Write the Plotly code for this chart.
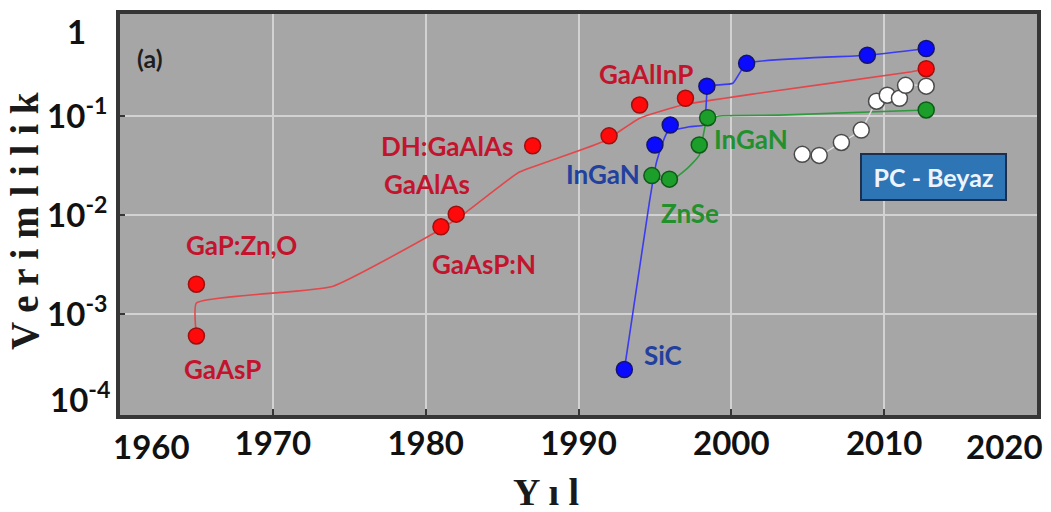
import numpy as np
import plotly.graph_objects as go

# ---------------- data ----------------
# red series (GaAsP family) - points
red_x = [1965.0, 1965.0, 1981.0, 1982.0, 1987.0, 1992.0, 1994.0, 1997.0, 2012.75]
red_y = [6.0e-4, 2.0e-3, 7.6e-3, 1.02e-2, 0.050, 0.063, 0.129, 0.151, 0.30]
# red trend line
red_line_x = [1965.0, 1965.0, 1973.9, 1980.5, 1982.4, 1986.1, 1988.3, 1991.7, 1994.0, 1996.8, 2001.8, 2011.8, 2012.75]
red_line_y = [6.0e-4, 1.29e-3, 1.9e-3, 6.5e-3, 1.0e-2, 0.027, 0.036, 0.056, 0.095, 0.129, 0.17, 0.28, 0.30]

# blue series (SiC / InGaN) - points
blue_x = [1993.0, 1995.0, 1996.0, 1998.4, 2001.0, 2008.9, 2012.75]
blue_y = [2.75e-4, 0.051, 0.081, 0.20, 0.34, 0.41, 0.48]
blue_line_x = [1993.0, 1994.64, 1995.1, 1995.8, 1997.25, 1998.2, 1998.4, 1998.5, 2000.1, 2001.0, 2008.9, 2012.75]
blue_line_y = [2.75e-4, 0.0135, 0.034, 0.068, 0.078, 0.081, 0.17, 0.20, 0.214, 0.34, 0.41, 0.48]

# green series (ZnSe / InGaN) - points
green_x = [1994.8, 1995.95, 1997.9, 1998.45, 2012.75]
green_y = [0.025, 0.023, 0.051, 0.096, 0.115]
green_line_x = [1994.8, 1996.0, 1997.06, 1997.9, 1998.4, 1999.2, 2003.1, 2012.75]
green_line_y = [0.024, 0.022, 0.029, 0.040, 0.091, 0.100, 0.102, 0.115]

# white series (PC - Beyaz)
white_x = [2004.64, 2005.75, 2007.2, 2008.5, 2009.5, 2010.2, 2011.0, 2011.4, 2012.75]
white_y = [0.041, 0.040, 0.054, 0.072, 0.141, 0.162, 0.151, 0.204, 0.20]

x_ticks = [1970, 1980, 1990, 2000, 2010]
y_ticks = [1e-1, 1e-2, 1e-3]
y_ticktext = ["10<sup>-1</sup>", "10<sup>-2</sup>", "10<sup>-3</sup>"]

# text labels: (text, year, value, colour)
RED_T, BLUE_T, GREEN_T = "#c3142d", "#22409e", "#23902e"
labels = [
    ("GaP:Zn,O", 1967.97, 10 ** -2.30, RED_T),
    ("GaAsP", 1966.7, 10 ** -3.56, RED_T),
    ("GaAsP:N", 1983.8, 10 ** -2.49, RED_T),
    ("GaAlAs", 1980.07, 10 ** -1.69, RED_T),
    ("DH:GaAlAs", 1981.4, 10 ** -1.30, RED_T),
    ("GaAlInP", 1994.4, 10 ** -0.58, RED_T),
    ("InGaN", 1991.6, 10 ** -1.59, BLUE_T),
    ("SiC", 1995.5, 10 ** -3.41, BLUE_T),
    ("ZnSe", 1997.3, 10 ** -1.98, GREEN_T),
    ("InGaN", 2001.3, 10 ** -1.23, GREEN_T),
]

LBL_FONT = "Lato"

fig = go.Figure()

def line(xs, ys, color, width=1.6):
    fig.add_trace(go.Scatter(x=xs, y=ys, mode="lines",
                             line=dict(color=color, width=width, shape="spline", smoothing=0.4),
                             hoverinfo="skip", showlegend=False))

def pts(xs, ys, fill, edge):
    fig.add_trace(go.Scatter(x=xs, y=ys, mode="markers",
                             marker=dict(size=16, color=fill, line=dict(color=edge, width=1.5)),
                             showlegend=False))

line(red_line_x, red_line_y, "#e2474b")
line(blue_line_x, blue_line_y, "#3b3bf0")
line(green_line_x, green_line_y, "#2f9a3c")
line(white_x, white_y, "#dcdcdc", 1.4)

pts(red_x, red_y, "#ff0a0a", "#9c1010")
pts(blue_x, blue_y, "#0a0aff", "#14146e")
pts(green_x, green_y, "#1c9e2a", "#0f5a18")
pts(white_x, white_y, "#ffffff", "#4a4a4a")

ann = []
for t, x, y, c in labels:
    ann.append(dict(x=x, y=np.log10(y), xref="x", yref="y", text=t, showarrow=False,
                    font=dict(family=LBL_FONT, size=26, color=c, weight="bold"),
                    xanchor="center", yanchor="middle"))

# panel tag
ann.append(dict(x=(150 - 120) / 918, y=(413 - 52) / 405, xref="paper", yref="paper", text="(a)",
                showarrow=False, font=dict(family=LBL_FONT, size=25, color="#1e1e1e", weight="bold"),
                xanchor="center", yanchor="middle"))

# PC - Beyaz box
ann.append(dict(x=(934.5 - 120) / 918, y=(415 - 175) / 405, xref="paper", yref="paper",
                text="PC - Beyaz", showarrow=False,
                font=dict(family=LBL_FONT, size=25, color="#eef4ff", weight="bold"),
                bgcolor="#2e75b6", bordercolor="#1d2f4d", borderwidth=2,
                width=141, height=42, xanchor="center", yanchor="middle"))

TICK_FONT = dict(family="Lato", size=33, color="#111111", weight="bold")
# edge tick labels (shifted inward as in the reference)
ann.append(dict(x=(152 - 120) / 918, y=-(446 - 415) / 405, xref="paper", yref="paper", text="1960",
                showarrow=False, font=TICK_FONT, xanchor="center", yanchor="middle"))
ann.append(dict(x=(1005 - 120) / 918, y=-(446 - 415) / 405, xref="paper", yref="paper", text="2020",
                showarrow=False, font=TICK_FONT, xanchor="center", yanchor="middle"))
ann.append(dict(x=-(120 - 88) / 918, y=(415 - 27) / 405, xref="paper", yref="paper", text="1",
                showarrow=False, font=TICK_FONT, xanchor="right", yanchor="middle"))
ann.append(dict(x=-(120 - 112) / 918, y=(415 - 397) / 405, xref="paper", yref="paper",
                text="10<sup>-4</sup>", showarrow=False, font=TICK_FONT,
                xanchor="right", yanchor="middle"))

# axis titles
ann.append(dict(x=(546 - 120) / 918, y=-(493 - 415) / 405, xref="paper", yref="paper",
                text="Y ı l", showarrow=False,
                font=dict(family="Liberation Serif", size=38, color="#1a1a1a", weight="bold"),
                xanchor="center", yanchor="middle"))
ann.append(dict(x=-(120 - 25) / 918, y=(415 - 219) / 405, xref="paper", yref="paper",
                text="V e r i m l i l i k", showarrow=False, textangle=-90,
                font=dict(family="Liberation Serif", size=39, color="#1a1a1a", weight="bold"),
                xanchor="center", yanchor="middle"))

fig.update_layout(
    width=1051, height=512,
    margin=dict(l=120, r=13, t=10, b=97),
    paper_bgcolor="white",
    plot_bgcolor="#a6a6a6",
    annotations=ann,
    showlegend=False,
)
fig.update_xaxes(
    range=[1960, 2020], tickvals=x_ticks, ticktext=[str(v) for v in x_ticks],
    showgrid=True, gridcolor="#d2d2d2", gridwidth=2, zeroline=False,
    showline=True, linecolor="#363636", linewidth=4, mirror=True,
    ticks="inside", ticklen=6, tickwidth=2, tickcolor="#363636",
    tickfont=TICK_FONT, ticklabelstandoff=-4,
)
fig.update_yaxes(
    type="log", range=[-4.02, 0.03], tickvals=y_ticks, ticktext=y_ticktext,
    showgrid=True, gridcolor="#d2d2d2", gridwidth=2, zeroline=False,
    showline=True, linecolor="#363636", linewidth=4, mirror=True,
    ticks="inside", ticklen=5, tickwidth=2, tickcolor="#363636",
    tickfont=TICK_FONT, ticklabelstandoff=2,
)

fig.write_html("out.html")
